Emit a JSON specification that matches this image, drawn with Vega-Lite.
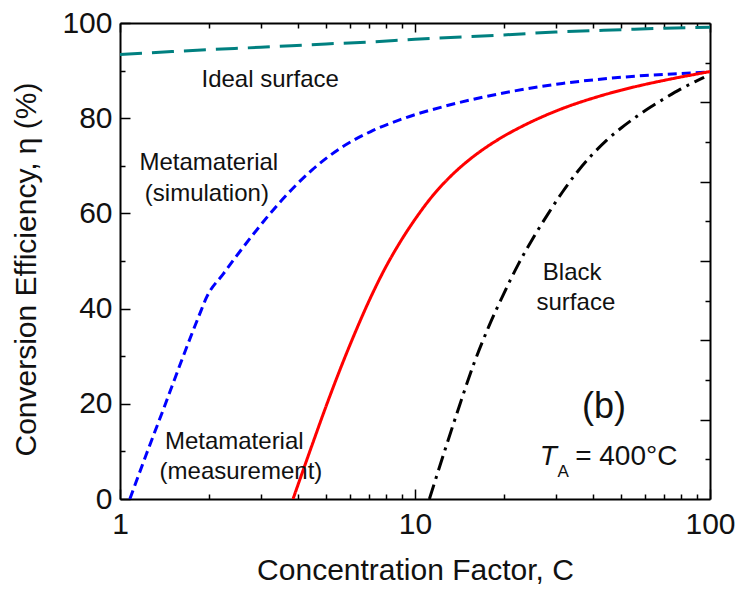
{
  "$schema": "https://vega.github.io/schema/vega-lite/v6.json",
  "autosize": {"type": "none"},
  "width": 590,
  "height": 476,
  "padding": {"left": 120, "top": 23, "right": 28, "bottom": 96},
  "background": "white",
  "datasets": {
    "curves": [
      {"series": "ideal", "C": 1, "eta": 93.4},
      {"series": "ideal", "C": 1.5, "eta": 94.0},
      {"series": "ideal", "C": 2, "eta": 94.4},
      {"series": "ideal", "C": 3, "eta": 94.9},
      {"series": "ideal", "C": 5, "eta": 95.6},
      {"series": "ideal", "C": 7, "eta": 96.0},
      {"series": "ideal", "C": 10, "eta": 96.6},
      {"series": "ideal", "C": 20, "eta": 97.5},
      {"series": "ideal", "C": 30, "eta": 98.1},
      {"series": "ideal", "C": 50, "eta": 98.6},
      {"series": "ideal", "C": 70, "eta": 98.9},
      {"series": "ideal", "C": 100, "eta": 99.1},

      {"series": "simulation", "C": 1.08, "eta": 0},
      {"series": "simulation", "C": 1.23, "eta": 9.5},
      {"series": "simulation", "C": 1.42, "eta": 19.7},
      {"series": "simulation", "C": 1.62, "eta": 29.2},
      {"series": "simulation", "C": 1.85, "eta": 38.4},
      {"series": "simulation", "C": 1.97, "eta": 42.5},
      {"series": "simulation", "C": 2.24, "eta": 47.3},
      {"series": "simulation", "C": 2.82, "eta": 55.5},
      {"series": "simulation", "C": 3.55, "eta": 62.9},
      {"series": "simulation", "C": 4.47, "eta": 69.1},
      {"series": "simulation", "C": 5.62, "eta": 73.8},
      {"series": "simulation", "C": 7.08, "eta": 77.2},
      {"series": "simulation", "C": 8.91, "eta": 79.7},
      {"series": "simulation", "C": 12.59, "eta": 82.5},
      {"series": "simulation", "C": 19.95, "eta": 85.3},
      {"series": "simulation", "C": 31.6, "eta": 87.3},
      {"series": "simulation", "C": 50.1, "eta": 88.6},
      {"series": "simulation", "C": 79.4, "eta": 89.4},
      {"series": "simulation", "C": 100, "eta": 89.7},

      {"series": "measurement", "C": 3.86, "eta": 0},
      {"series": "measurement", "C": 4.47, "eta": 11.2},
      {"series": "measurement", "C": 5.01, "eta": 19.7},
      {"series": "measurement", "C": 5.62, "eta": 27.8},
      {"series": "measurement", "C": 6.31, "eta": 35.4},
      {"series": "measurement", "C": 7.08, "eta": 42.4},
      {"series": "measurement", "C": 7.94, "eta": 48.6},
      {"series": "measurement", "C": 8.91, "eta": 54.0},
      {"series": "measurement", "C": 10, "eta": 58.75},
      {"series": "measurement", "C": 11.22, "eta": 62.95},
      {"series": "measurement", "C": 12.59, "eta": 66.5},
      {"series": "measurement", "C": 14.13, "eta": 69.5},
      {"series": "measurement", "C": 15.85, "eta": 72.05},
      {"series": "measurement", "C": 17.78, "eta": 74.25},
      {"series": "measurement", "C": 19.95, "eta": 76.18},
      {"series": "measurement", "C": 22.39, "eta": 77.88},
      {"series": "measurement", "C": 25.12, "eta": 79.41},
      {"series": "measurement", "C": 28.18, "eta": 80.79},
      {"series": "measurement", "C": 31.62, "eta": 82.04},
      {"series": "measurement", "C": 35.48, "eta": 83.15},
      {"series": "measurement", "C": 39.81, "eta": 84.15},
      {"series": "measurement", "C": 44.67, "eta": 85.07},
      {"series": "measurement", "C": 50.12, "eta": 85.9},
      {"series": "measurement", "C": 56.23, "eta": 86.67},
      {"series": "measurement", "C": 63.1, "eta": 87.37},
      {"series": "measurement", "C": 70.79, "eta": 88.02},
      {"series": "measurement", "C": 79.43, "eta": 88.64},
      {"series": "measurement", "C": 89.13, "eta": 89.22},
      {"series": "measurement", "C": 100, "eta": 89.8},

      {"series": "black", "C": 11.19, "eta": 0},
      {"series": "black", "C": 12.59, "eta": 10.0},
      {"series": "black", "C": 14.13, "eta": 19.5},
      {"series": "black", "C": 15.85, "eta": 28.5},
      {"series": "black", "C": 17.78, "eta": 36.2},
      {"series": "black", "C": 19.95, "eta": 43.0},
      {"series": "black", "C": 22.39, "eta": 49.3},
      {"series": "black", "C": 25.12, "eta": 54.8},
      {"series": "black", "C": 28.18, "eta": 59.8},
      {"series": "black", "C": 31.62, "eta": 64.5},
      {"series": "black", "C": 35.48, "eta": 68.7},
      {"series": "black", "C": 39.81, "eta": 72.3},
      {"series": "black", "C": 44.67, "eta": 75.4},
      {"series": "black", "C": 50.12, "eta": 78.0},
      {"series": "black", "C": 56.23, "eta": 80.3},
      {"series": "black", "C": 63.1, "eta": 82.4},
      {"series": "black", "C": 70.79, "eta": 84.3},
      {"series": "black", "C": 79.43, "eta": 86.1},
      {"series": "black", "C": 89.13, "eta": 87.7},
      {"series": "black", "C": 95.5, "eta": 88.6}
    ],
    "labels": [
      {"text": "Ideal surface", "C": 3.23, "eta": 86.6},
      {"text": "Metamaterial", "C": 2.0, "eta": 69.1},
      {"text": "(simulation)", "C": 1.97, "eta": 62.6},
      {"text": "Metamaterial", "C": 2.44, "eta": 10.5},
      {"text": "(measurement)", "C": 2.57, "eta": 4.3},
      {"text": "Black", "C": 34.1, "eta": 46.0},
      {"text": "surface", "C": 35.1, "eta": 39.7}
    ],
    "panel": [{"text": "(b)", "C": 43.7, "eta": 19.3}],
    "tsym": [{"text": "T", "C": 26.5, "eta": 7.1}],
    "tsub": [{"text": "A", "C": 30.4, "eta": 4.6}],
    "tval": [{"text": "= 400°C", "C": 34.9, "eta": 7.1}]
  },
  "layer": [
    {
      "data": {"name": "curves"},
      "mark": {"type": "line", "strokeWidth": 3, "clip": true, "interpolate": "monotone"},
      "encoding": {
        "x": {
          "field": "C", "type": "quantitative",
          "scale": {"type": "log", "domain": [1, 100]},
          "axis": {
            "orient": "bottom",
            "title": "Concentration Factor, C",
            "titleFontSize": 30,
            "titlePadding": 11,
            "values": [1, 2, 3, 4, 5, 6, 7, 8, 9, 10, 20, 30, 40, 50, 60, 70, 80, 90, 100],
            "labelExpr": "indexof([1, 10, 100], datum.value) >= 0 ? format(datum.value, 'd') : ''",
            "labelPadding": 20,
            "labelFlush": false,
            "labelOverlap": false,
            "tickSize": {"condition": {"test": "indexof([1, 10, 100], datum.value) >= 0", "value": -10}, "value": -5}
          }
        },
        "y": {
          "field": "eta", "type": "quantitative",
          "scale": {"domain": [0, 100]},
          "axis": {
            "orient": "left",
            "title": "Conversion Efficiency, η (%)",
            "titleFontSize": 30,
            "titlePadding": 20,
            "titleY": 246,
            "values": [0, 10, 20, 30, 40, 50, 60, 70, 80, 90, 100],
            "labelExpr": "datum.value % 20 == 0 ? format(datum.value, 'd') : ''",
            "labelPadding": 18,
            "labelFlush": false,
            "labelOverlap": false,
            "tickSize": {"condition": {"test": "datum.value % 20 == 0", "value": -10}, "value": -5}
          }
        },
        "color": {
          "field": "series", "type": "nominal",
          "scale": {"domain": ["ideal", "simulation", "measurement", "black"], "range": ["#008080", "#0000FF", "#FF0000", "#000000"]},
          "legend": null
        },
        "strokeDash": {
          "field": "series", "type": "nominal",
          "scale": {"domain": ["ideal", "simulation", "measurement", "black"], "range": [[22, 10], [9, 5], [1, 0], [15, 6, 3, 6]]},
          "legend": null
        }
      }
    },
    {
      "data": {"name": "labels"},
      "mark": {"type": "text", "fontSize": 24, "align": "center", "baseline": "alphabetic"},
      "encoding": {
        "x": {
          "field": "C", "type": "quantitative",
          "scale": {"type": "log", "domain": [1, 100]},
          "axis": {
            "orient": "top",
            "title": null,
            "labels": false,
            "values": [1, 2, 3, 4, 5, 6, 7, 8, 9, 10, 20, 30, 40, 50, 60, 70, 80, 90, 100],
            "tickSize": {"condition": {"test": "indexof([1, 10, 100], datum.value) >= 0", "value": -9}, "value": -5}
          }
        },
        "y": {
          "field": "eta", "type": "quantitative",
          "scale": {"domain": [0, 100]},
          "axis": {
            "orient": "right",
            "title": null,
            "labels": false,
            "values": [8.3333, 16.6667, 25, 33.3333, 41.6667, 50, 58.3333, 66.6667, 75, 83.3333, 91.6667],
            "tickSize": {"condition": {"test": "round(datum.value * 12 / 100) % 2 == 0", "value": -10}, "value": -5}
          }
        },
        "text": {"field": "text"}
      }
    },
    {
      "data": {"name": "panel"},
      "mark": {"type": "text", "fontSize": 36, "align": "center", "baseline": "middle"},
      "encoding": {
        "x": {"field": "C", "type": "quantitative", "scale": {"type": "log", "domain": [1, 100]}, "axis": null},
        "y": {"field": "eta", "type": "quantitative", "scale": {"domain": [0, 100]}, "axis": null},
        "text": {"field": "text"}
      }
    },
    {
      "data": {"name": "tsym"},
      "mark": {"type": "text", "fontSize": 28, "fontStyle": "italic", "align": "left", "baseline": "alphabetic"},
      "encoding": {
        "x": {"field": "C", "type": "quantitative", "scale": {"type": "log", "domain": [1, 100]}, "axis": null},
        "y": {"field": "eta", "type": "quantitative", "scale": {"domain": [0, 100]}, "axis": null},
        "text": {"field": "text"}
      }
    },
    {
      "data": {"name": "tsub"},
      "mark": {"type": "text", "fontSize": 17, "align": "left", "baseline": "alphabetic"},
      "encoding": {
        "x": {"field": "C", "type": "quantitative", "scale": {"type": "log", "domain": [1, 100]}, "axis": null},
        "y": {"field": "eta", "type": "quantitative", "scale": {"domain": [0, 100]}, "axis": null},
        "text": {"field": "text"}
      }
    },
    {
      "data": {"name": "tval"},
      "mark": {"type": "text", "fontSize": 28, "align": "left", "baseline": "alphabetic"},
      "encoding": {
        "x": {"field": "C", "type": "quantitative", "scale": {"type": "log", "domain": [1, 100]}, "axis": null},
        "y": {"field": "eta", "type": "quantitative", "scale": {"domain": [0, 100]}, "axis": null},
        "text": {"field": "text"}
      }
    }
  ],
  "resolve": {"axis": {"x": "independent", "y": "independent"}},
  "config": {
    "view": {"stroke": null},
    "axis": {
      "grid": false,
      "domainColor": "#000000",
      "domainWidth": 2,
      "tickColor": "#000000",
      "tickWidth": 1.5,
      "labelFont": "Liberation Sans",
      "labelFontSize": 30,
      "labelColor": "#111111",
      "titleFont": "Liberation Sans",
      "titleFontWeight": "normal",
      "titleColor": "#111111"
    },
    "text": {"font": "Liberation Sans", "color": "#111111"}
  }
}
